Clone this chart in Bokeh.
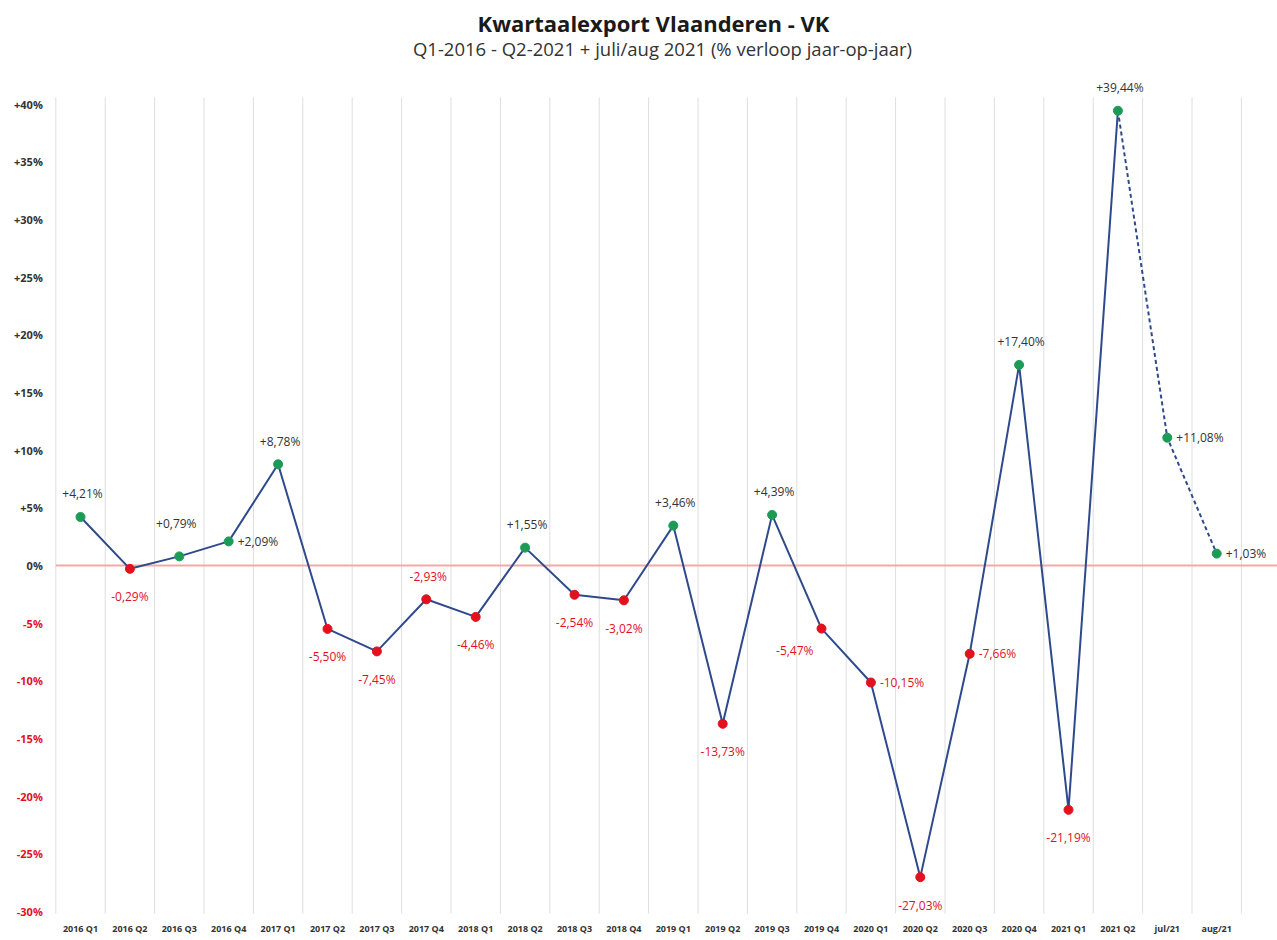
from bokeh.plotting import figure
from bokeh.models import FixedTicker, Label, ColumnDataSource, Range1d
from bokeh.core.properties import value
from bokeh.embed import file_html
from bokeh.resources import INLINE

categories = ["2016 Q1", "2016 Q2", "2016 Q3", "2016 Q4",
              "2017 Q1", "2017 Q2", "2017 Q3", "2017 Q4",
              "2018 Q1", "2018 Q2", "2018 Q3", "2018 Q4",
              "2019 Q1", "2019 Q2", "2019 Q3", "2019 Q4",
              "2020 Q1", "2020 Q2", "2020 Q3", "2020 Q4",
              "2021 Q1", "2021 Q2", "jul/21", "aug/21"]
values = [4.21, -0.29, 0.79, 2.09,
          8.78, -5.50, -7.45, -2.93,
          -4.46, 1.55, -2.54, -3.02,
          3.46, -13.73, 4.39, -5.47,
          -10.15, -27.03, -7.66, 17.40,
          -21.19, 39.44, 11.08, 1.03]
y_ticks = [-30, -25, -20, -15, -10, -5, 0, 5, 10, 15, 20, 25, 30, 35, 40]
label_place = ["above", "below", "above_high", "right",
               "above", "below", "below", "above",
               "below", "above", "below", "below",
               "above", "below", "above", "belowleft",
               "right", "below", "right", "above",
               "below", "above", "right", "right"]
n_quarters = 22  # solid line up to 2021 Q2
title_text = "Kwartaalexport Vlaanderen - VK"
subtitle_text = "Q1-2016 - Q2-2021 + juli/aug 2021 (% verloop jaar-op-jaar)"

FONT = "Open Sans"
GREEN = "#1c9b57"
RED = "#e3101e"
NAVY = "#2f4a8c"
DARK = "#333333"

W, H = 1277, 940
FRAME_BOTTOM = 919          # px from top
GRID_BOTTOM_PX = 913
ZERO_PX = 565               # px of 0%
PX_PER_PCT = 11.53
LEFT_EDGE_PX = 55.3         # px of first category boundary
PX_PER_CAT = 49.4

n = len(categories)
xs = list(range(n))
x_start = -0.5 - LEFT_EDGE_PX / PX_PER_CAT
x_end = x_start + W / PX_PER_CAT
y_top = ZERO_PX / PX_PER_PCT
y_bottom = -(FRAME_BOTTOM - ZERO_PX) / PX_PER_PCT
grid_bottom = -(GRID_BOTTOM_PX - ZERO_PX) / PX_PER_PCT
grid_top = 40.6

def px_to_x(px):
    return x_start + px / PX_PER_CAT

def px_to_y(py):
    return (ZERO_PX - py) / PX_PER_PCT

p = figure(width=W, height=H, output_backend="svg", toolbar_location=None,
           x_range=Range1d(x_start, x_end), y_range=Range1d(y_bottom, y_top),
           min_border_left=0, min_border_right=0, min_border_bottom=H - FRAME_BOTTOM,
           min_border_top=0, title=None)
p.outline_line_color = None
p.background_fill_color = "white"
p.yaxis.visible = False
p.grid.grid_line_color = None

# titles
p.add_layout(Label(x=px_to_x(653), y=px_to_y(22), text=title_text, text_align="center",
                   text_baseline="middle", text_font=FONT, text_font_size="22px",
                   text_font_style="bold", text_color="#1a1a1a"))
p.add_layout(Label(x=px_to_x(662), y=px_to_y(48), text=subtitle_text, text_align="center",
                   text_baseline="middle", text_font=FONT, text_font_size="18.5px",
                   text_color="#333333"))

# x axis
p.xaxis.ticker = FixedTicker(ticks=xs)
p.xaxis.major_label_overrides = {i: c for i, c in enumerate(categories)}
p.xaxis.major_label_text_font = FONT
p.xaxis.major_label_text_font_size = "9px"
p.xaxis.major_label_text_font_style = "bold"
p.xaxis.major_label_text_color = DARK
p.xaxis.major_label_standoff = 2
p.xaxis.axis_line_color = None
p.xaxis.major_tick_line_color = None
p.xaxis.minor_tick_line_color = None
p.xaxis.major_tick_out = 0
p.xaxis.major_tick_in = 0

# y tick labels
ysrc = ColumnDataSource(dict(
    x=[-0.5] * len(y_ticks), y=y_ticks,
    t=[(f"+{t}%" if t > 0 else f"{t}%") for t in y_ticks],
    c=[(RED if t < 0 else DARK) for t in y_ticks]))
p.text(x="x", y="y", text="t", source=ysrc, x_offset=-13, text_align="right",
       text_baseline="middle", text_font=value(FONT), text_font_size="11px",
       text_font_style="bold", text_color="c")

# vertical grid lines
bounds = [i - 0.5 for i in range(n + 1)]
p.segment(x0=bounds, y0=[grid_bottom] * len(bounds), x1=bounds, y1=[grid_top] * len(bounds),
          line_color="#dedede", line_width=1)

# zero line
p.segment(x0=[-0.5], y0=[0], x1=[x_end], y1=[0], line_color="#f2aaa6", line_width=2)

# lines
p.line(xs[:n_quarters], values[:n_quarters], line_color=NAVY, line_width=2)
p.line(xs[n_quarters - 1:], values[n_quarters - 1:], line_color=NAVY, line_width=2,
       line_dash="4 3")

colors = [GREEN if v >= 0 else RED for v in values]
p.scatter(xs, values, size=9, fill_color=colors, line_color=colors)

# data labels
def fmt(v):
    return f"{v:+.2f}".replace(".", ",") + "%"

offsets = {"above": (2, -23, "center"), "above_high": (-3, -33, "center"),
           "below": (0, 28, "center"),
           "right": (9, 0, "left"), "belowleft": (-8, 22, "right")}
for place, (dx, dy, align) in offsets.items():
    idx = [i for i in range(n) if label_place[i] == place]
    src = ColumnDataSource(dict(x=[xs[i] for i in idx], y=[values[i] for i in idx],
                                t=[fmt(values[i]) for i in idx],
                                c=[DARK if values[i] >= 0 else RED for i in idx]))
    p.text(x="x", y="y", text="t", source=src, x_offset=dx, y_offset=dy,
           text_align=align, text_baseline="middle", text_font=value(FONT),
           text_font_size="12px", text_color="c")

open("out.html", "w").write(file_html(p, INLINE))
